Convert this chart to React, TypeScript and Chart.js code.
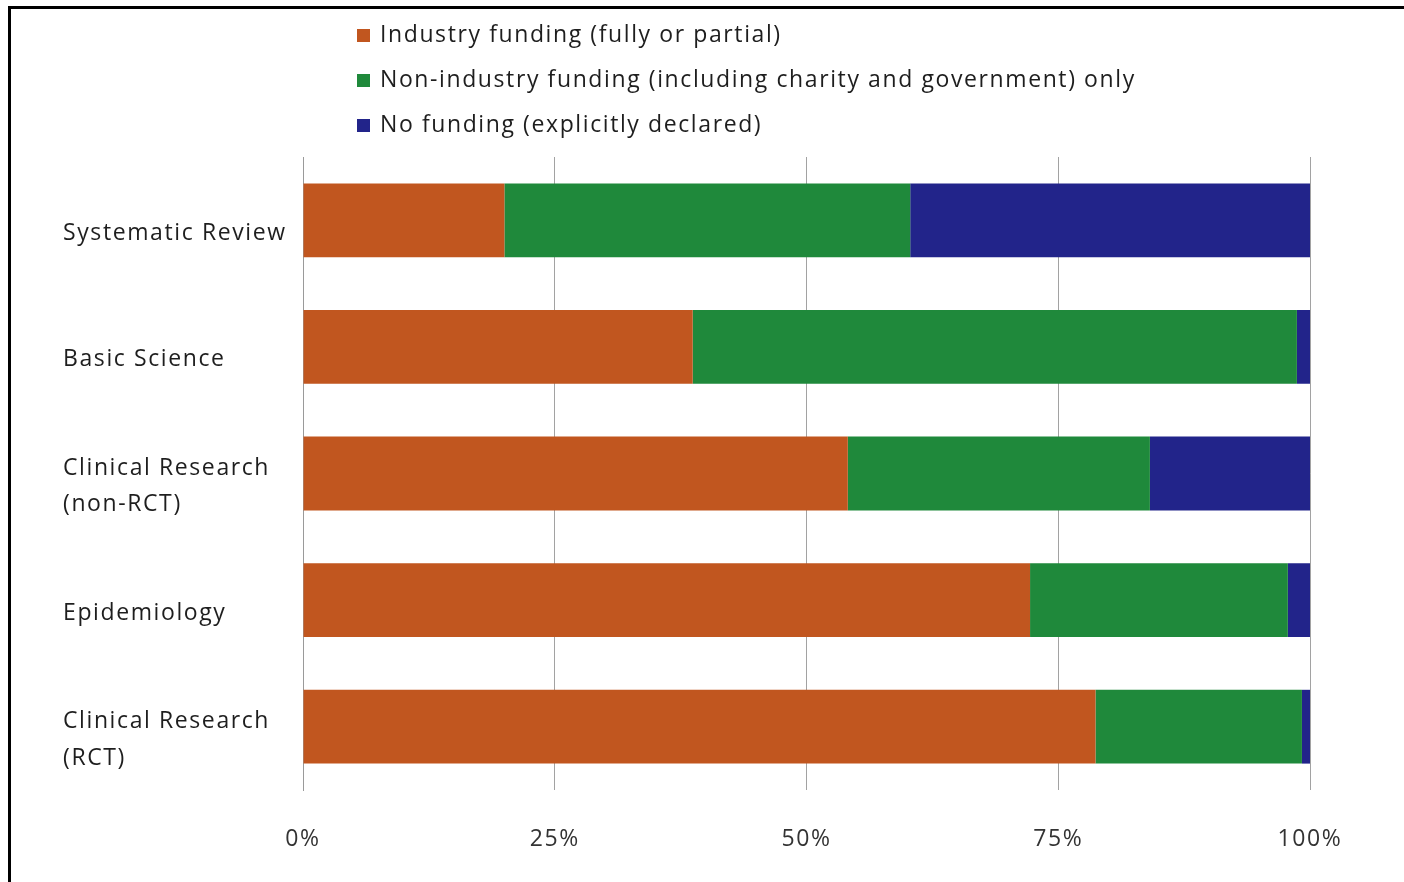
import React, { useEffect, useRef } from 'react';
import { Chart, registerables } from 'chart.js';

Chart.register(...registerables);

const categories: (string | string[])[] = [
  'Systematic Review',
  'Basic Science',
  ['Clinical Research', '(non-RCT)'],
  'Epidemiology',
  ['Clinical Research', '(RCT)'],
];

const seriesNames = [
  'Industry funding (fully or partial)',
  'Non-industry funding (including charity and government) only',
  'No funding (explicitly declared)',
];

const industry = [20, 38.7, 54.1, 72.2, 78.7];
const nonIndustry = [40.3, 60, 30, 25.6, 20.5];
const noFunding = [39.7, 1.3, 15.9, 2.2, 0.8];

const tickValues = [0, 25, 50, 75, 100];

const colors = ['#C1561F', '#1F893B', '#22248A'];

const FONT = '"Open Sans", Lato, "Liberation Sans", sans-serif';
const SPACING = '1.6px';
const SIZE = 23;

const spacingPlugin = {
  id: 'letterSpacing',
  beforeLayout(chart: any) {
    (chart.ctx as any).letterSpacing = SPACING;
  },
  beforeDraw(chart: any) {
    (chart.ctx as any).letterSpacing = SPACING;
  },
};

const legendPlugin = {
  id: 'stackLegend',
  afterDraw(chart: any) {
    const ctx = chart.ctx as CanvasRenderingContext2D;
    ctx.save();
    (ctx as any).letterSpacing = SPACING;
    ctx.font = `${SIZE}px ${FONT}`;
    ctx.textBaseline = 'middle';
    ctx.textAlign = 'left';
    chart.data.datasets.forEach((ds: any, i: number) => {
      const y = 26 + i * 45;
      ctx.fillStyle = ds.backgroundColor;
      ctx.fillRect(346, y - 6, 13, 13);
      ctx.fillStyle = '#1e1e1e';
      ctx.fillText(ds.label, 369, y);
    });
    ctx.restore();
  },
};

export default function App() {
  const ref = useRef<HTMLCanvasElement>(null);

  useEffect(() => {
    if (!ref.current) return;
    const chart = new Chart(ref.current, {
      type: 'bar',
      data: {
        labels: categories,
        datasets: [
          { label: seriesNames[0], data: industry, backgroundColor: colors[0] },
          { label: seriesNames[1], data: nonIndustry, backgroundColor: colors[1] },
          { label: seriesNames[2], data: noFunding, backgroundColor: colors[2] },
        ],
      },
      options: {
        indexAxis: 'y',
        responsive: false,
        maintainAspectRatio: false,
        animation: false,
        datasets: {
          bar: { categoryPercentage: 1, barPercentage: 0.583 },
        },
        layout: { padding: { top: 148, left: 52, right: 94, bottom: 22 } },
        plugins: {
          legend: { display: false },
          tooltip: { enabled: false },
        },
        scales: {
          x: {
            stacked: true,
            min: 0,
            max: 100,
            z: 1,
            afterBuildTicks: (scale: any) => {
              scale.ticks = tickValues.map((v) => ({ value: v }));
            },
            afterFit: (scale: any) => {
              scale.height = 70;
            },
            ticks: {
              callback: (v: any) => `${v}%`,
              font: { family: FONT, size: SIZE },
              color: '#333',
              padding: 36,
              maxRotation: 0,
            },
            grid: { color: 'rgba(70,70,70,0.5)', lineWidth: 1, drawTicks: false },
            border: { display: false },
          },
          y: {
            stacked: true,
            afterFit: (scale: any) => {
              scale.width = 240;
            },
            ticks: {
              crossAlign: 'far',
              labelOffset: 13,
              font: { family: FONT, size: SIZE, lineHeight: 1.6 },
              color: '#1e1e1e',
            },
            grid: { display: false, drawTicks: false },
            border: { display: true, color: '#9a9a9a', width: 1 },
          },
        },
      },
      plugins: [spacingPlugin, legendPlugin],
    } as any);
    return () => chart.destroy();
  }, []);

  return (
    <div style={{ position: 'fixed', left: 0, top: 0, width: 1404, height: 882, overflow: 'hidden', background: '#fff' }}>
      <div
        style={{
          position: 'absolute',
          left: 8,
          top: 6,
          width: 1430,
          height: 900,
          border: '3px solid #000',
          boxSizing: 'border-box',
        }}
      />
      <canvas
        ref={ref}
        width={1393}
        height={873}
        style={{ position: 'absolute', left: 11, top: 9, width: 1393, height: 873 }}
      />
    </div>
  );
}
